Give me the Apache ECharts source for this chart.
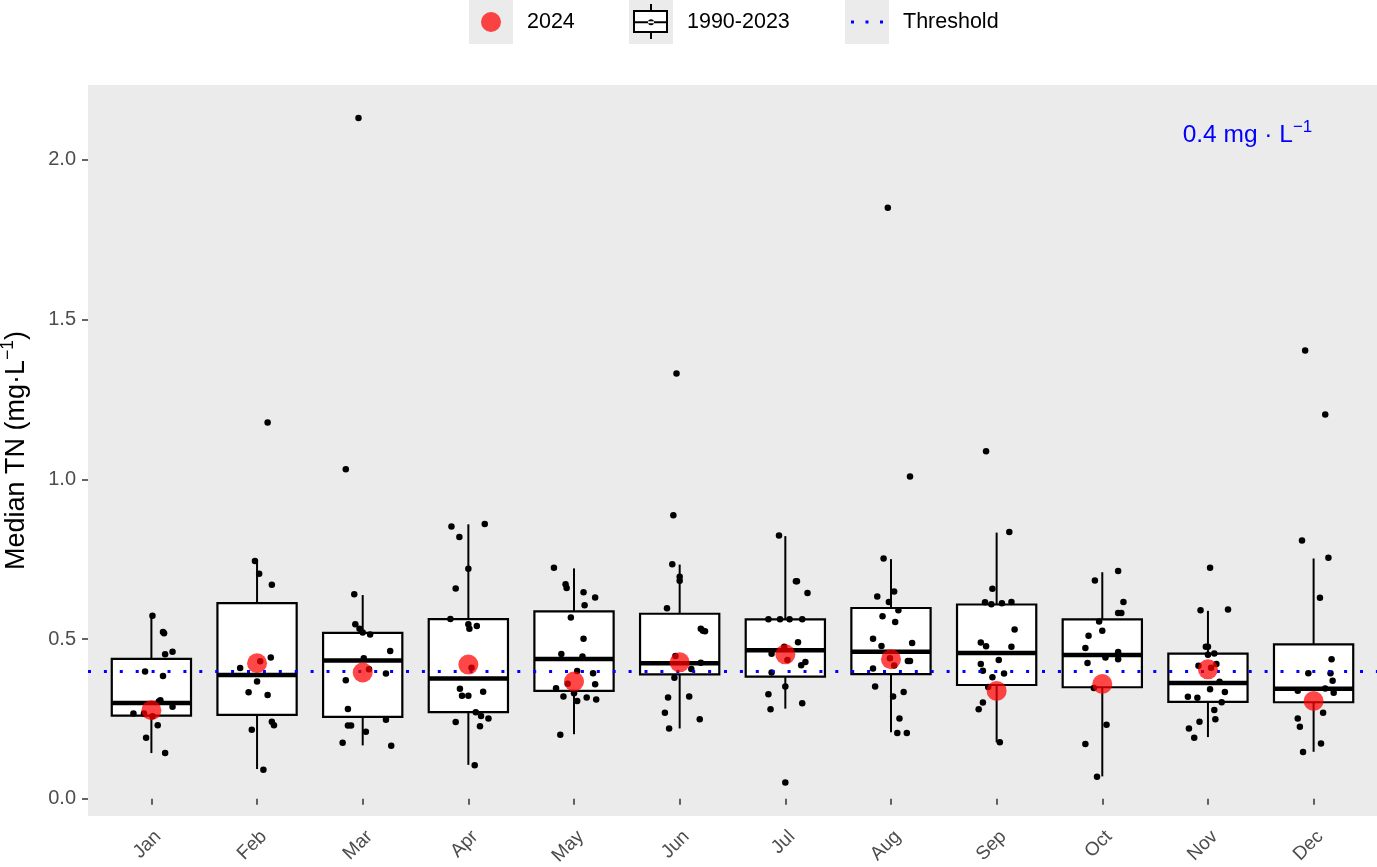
<!DOCTYPE html>
<html>
<head>
<meta charset="utf-8">
<script src="https://cdn.jsdelivr.net/npm/echarts@6/dist/echarts.min.js"></script>
<style>
html,body{margin:0;padding:0;background:#fff;}
#chart{width:1377px;height:867px;}
</style>
</head>
<body>
<div id="chart"></div>
<script>
// ---------- data ----------
const months = ['Jan','Feb','Mar','Apr','May','Jun','Jul','Aug','Sep','Oct','Nov','Dec'];

// boxplot statistics 1990-2023 (whisker low, Q1, median, Q3, whisker high)
const boxLow    = [0.143, 0.093, 0.167, 0.106, 0.202, 0.220, 0.282, 0.208, 0.177, 0.070, 0.193, 0.147];
const boxQ1     = [0.260, 0.2625, 0.256, 0.271, 0.3375, 0.389, 0.382, 0.390, 0.356, 0.349, 0.303, 0.302];
const boxMedian = [0.300, 0.3875, 0.433, 0.376, 0.4375, 0.424, 0.4646, 0.460, 0.456, 0.450, 0.3625, 0.344];
const boxQ3     = [0.4375, 0.6125, 0.519, 0.5625, 0.5865, 0.579, 0.5615, 0.597, 0.608, 0.5615, 0.454, 0.4834];
const boxHigh   = [0.573, 0.744, 0.6375, 0.859, 0.721, 0.733, 0.822, 0.750, 0.833, 0.709, 0.588, 0.752];

// 2024 monthly medians
const obs2024 = [0.277, 0.424, 0.395, 0.420, 0.367, 0.427, 0.452, 0.4365, 0.3375, 0.359, 0.405, 0.306];

const threshold = 0.4;

// yearly medians 1990-2023 (jittered points), one list per month
const histValues = [
  [0.573,0.522,0.518,0.452,0.460,0.398,0.384,0.308,0.304,0.288,0.267,0.267,0.258,0.230,0.191,0.143],
  [1.178,0.744,0.704,0.670,0.442,0.430,0.409,0.367,0.333,0.325,0.241,0.230,0.216,0.091],
  [2.131,1.031,0.640,0.546,0.532,0.520,0.514,0.4625,0.440,0.405,0.392,0.371,0.281,0.247,0.229,0.229,0.210,0.175,0.166],
  [0.852,0.860,0.819,0.720,0.658,0.5625,0.546,0.532,0.541,0.410,0.344,0.322,0.322,0.335,0.271,0.259,0.251,0.240,0.227,0.105],
  [0.723,0.671,0.660,0.646,0.630,0.606,0.567,0.501,0.453,0.445,0.400,0.393,0.358,0.360,0.346,0.330,0.320,0.306,0.317,0.311,0.200],
  [1.331,0.887,0.734,0.695,0.682,0.596,0.532,0.526,0.524,0.447,0.426,0.406,0.379,0.320,0.317,0.269,0.249,0.220],
  [0.824,0.681,0.681,0.644,0.5615,0.5615,0.5615,0.5615,0.490,0.476,0.454,0.434,0.428,0.418,0.395,0.351,0.327,0.299,0.280,0.051],
  [1.850,1.009,0.752,0.649,0.633,0.616,0.590,0.571,0.553,0.501,0.4875,0.478,0.440,0.431,0.431,0.417,0.408,0.351,0.334,0.320,0.251,0.206,0.206],
  [1.0875,0.835,0.657,0.615,0.609,0.612,0.616,0.530,0.489,0.477,0.476,0.434,0.422,0.401,0.392,0.380,0.350,0.301,0.280,0.177],
  [0.7125,0.683,0.616,0.581,0.581,0.555,0.526,0.510,0.472,0.459,0.437,0.442,0.425,0.347,0.232,0.171,0.069],
  [0.723,0.590,0.592,0.476,0.476,0.455,0.451,0.422,0.416,0.410,0.366,0.319,0.316,0.343,0.334,0.302,0.278,0.249,0.241,0.220,0.191],
  [1.403,1.203,0.808,0.754,0.629,0.437,0.393,0.393,0.369,0.345,0.332,0.338,0.269,0.251,0.225,0.173,0.146]
];
// horizontal jitter of each point (in month units)
const histJitter = [
  [0.01,0.11,0.12,0.13,0.20,-0.06,0.11,0.085,0.07,0.20,-0.17,-0.07,0.01,0.06,-0.05,0.13],
  [0.10,-0.02,0.02,0.14,0.13,0.03,-0.16,0.0,-0.08,0.10,0.14,0.16,-0.05,0.06],
  [-0.04,-0.16,-0.08,-0.07,-0.03,0.0,0.07,0.26,0.01,0.06,0.22,-0.16,-0.14,0.22,-0.14,-0.11,0.03,-0.19,0.27],
  [-0.16,0.155,-0.085,0.0,-0.12,-0.17,0.0,0.01,0.08,0.03,-0.08,-0.06,0.0,0.14,0.07,0.12,0.19,-0.12,0.11,0.06],
  [-0.19,-0.08,-0.07,0.09,0.20,0.10,-0.03,0.09,-0.12,0.08,0.03,0.18,0.20,-0.06,-0.17,0.0,-0.10,0.03,0.12,0.21,-0.13],
  [-0.03,-0.06,-0.07,0.0,0.0,-0.12,0.20,0.22,0.24,-0.04,0.20,0.11,-0.05,0.09,-0.11,-0.14,0.19,-0.10],
  [-0.06,0.10,0.11,0.21,-0.16,-0.05,0.04,0.16,0.12,-0.01,-0.13,0.02,0.19,0.15,-0.13,0.0,-0.16,0.16,-0.14,0.0],
  [-0.03,0.18,-0.07,0.03,-0.13,-0.02,0.07,-0.08,0.04,-0.17,0.20,-0.09,-0.01,0.16,0.18,0.03,-0.17,-0.15,0.12,0.02,0.08,0.06,0.15],
  [-0.10,0.12,-0.04,-0.11,-0.05,0.05,0.14,0.17,-0.15,-0.10,0.14,0.02,-0.15,-0.13,0.07,-0.04,-0.08,-0.13,-0.17,0.03],
  [0.15,-0.07,0.20,0.15,0.18,-0.03,0.0,-0.13,-0.16,0.15,0.15,0.03,-0.14,-0.08,0.04,-0.16,-0.05],
  [0.02,-0.07,0.19,-0.02,0.0,0.06,0.0,0.08,-0.09,0.03,0.11,-0.19,-0.10,0.02,0.16,0.13,0.06,0.07,-0.08,-0.18,-0.13],
  [-0.08,0.11,-0.11,0.14,0.06,0.17,-0.05,0.16,0.18,0.11,0.19,-0.15,0.09,-0.15,-0.13,0.07,-0.10]
];
const yTicks = [0, 0.5, 1.0, 1.5, 2.0];

// ---------- build series data ----------
const monthIdx = months.map((m, i) => i + 1);
const boxData = monthIdx.map((x, i) => [x, boxLow[i], boxQ1[i], boxMedian[i], boxQ3[i], boxHigh[i]]);
const pointData = [];
histValues.forEach((vals, i) => {
  vals.forEach((v, j) => pointData.push([monthIdx[i] + histJitter[i][j], v]));
});
const data2024 = monthIdx.map((x, i) => [x, obs2024[i]]);

const FONT = '"Liberation Sans", Arial, Helvetica, sans-serif';
const BOX_WIDTH = 0.75;

function renderBox(params, api) {
  const x = api.value(0);
  const lo = api.coord([x, api.value(1)]);
  const q1 = api.coord([x, api.value(2)]);
  const md = api.coord([x, api.value(3)]);
  const q3 = api.coord([x, api.value(4)]);
  const hi = api.coord([x, api.value(5)]);
  const w = api.size([BOX_WIDTH, 0])[0];
  const cx = lo[0];
  const ls = {stroke: '#000', lineWidth: 2};
  return {
    type: 'group',
    children: [
      {type: 'line', shape: {x1: cx, y1: hi[1], x2: cx, y2: q3[1]}, style: ls},
      {type: 'line', shape: {x1: cx, y1: q1[1], x2: cx, y2: lo[1]}, style: ls},
      {type: 'rect', shape: {x: cx - w / 2, y: q3[1], width: w, height: q1[1] - q3[1]},
       style: {fill: '#fff', stroke: '#000', lineWidth: 2.2}},
      {type: 'line', shape: {x1: cx - w / 2, y1: md[1], x2: cx + w / 2, y2: md[1]},
       style: {stroke: '#000', lineWidth: 4.5}}
    ]
  };
}

// legend icons (44x44 boxes; tiny corner specks fix the bounding box)
const SPECK = 'M0 0h0.01v0.01h-0.01z M43.99 43.99h0.01v0.01h-0.01z ';
const circleIcon = 'path://' + SPECK + 'M12 22a10 10 0 1 0 20 0a10 10 0 1 0 -20 0z';
const boxIcon = 'path://' + SPECK +
  'M21 4H23V10H21Z M4 10H39V33H4Z M6 12V31H37V12Z M6 21.3H37V23.3H6Z ' +
  'M19 22.3a3 3 0 1 0 6 0a3 3 0 1 0 -6 0z M21 33H23V39H21Z';
const dotsIcon = 'path://' + SPECK + 'M6 20.5h3v3h-3z M20.5 20.5h3v3h-3z M35 20.5h3v3h-3z';

const legendText = {fontSize: 21.5, color: '#000', fontFamily: FONT, padding: [0, 0, 0, 9]};
function oneLegend(name, icon, left, opacity) {
  return {
    data: [{name: name, icon: icon, itemStyle: {opacity: opacity}}],
    left: left, top: 0, padding: 0, itemWidth: 44, itemHeight: 44,
    selectedMode: false, textStyle: legendText, z: 10
  };
}
const keyPos = [469, 629, 845];

const chart = echarts.init(document.getElementById('chart'), null, {renderer: 'canvas'});
chart.setOption({
  animation: false,
  backgroundColor: '#fff',
  graphic: keyPos.map(x => ({
    type: 'rect', left: x, top: 0, shape: {width: 44, height: 44},
    style: {fill: '#EBEBEB'}, z: 0, silent: true
  })).concat([{
    type: 'rect', left: keyPos[1] + 5, top: 11, shape: {width: 33, height: 21},
    style: {fill: '#fff'}, z: 1, silent: true
  }]),
  legend: [
    oneLegend('2024', circleIcon, keyPos[0], 0.72),
    oneLegend('1990-2023', boxIcon, keyPos[1], 1),
    oneLegend('Threshold', dotsIcon, keyPos[2], 1)
  ],
  grid: {
    left: 88, right: 0, top: 85, bottom: 51,
    show: true, backgroundColor: '#EBEBEB', borderWidth: 0,
    outerBoundsMode: 'none', containLabel: false
  },
  xAxis: {
    type: 'value', min: 0.4, max: 12.6,
    axisLine: {show: false},
    splitLine: {show: false},
    axisTick: {show: true, length: 6, customValues: monthIdx, lineStyle: {color: '#333', width: 1.5}},
    axisLabel: {
      customValues: monthIdx,
      formatter: v => months[Math.round(v) - 1],
      rotate: 45, align: 'right', verticalAlign: 'top', margin: 11,
      fontSize: 19, color: '#4d4d4d', fontFamily: FONT
    }
  },
  yAxis: {
    type: 'value', min: -0.054, max: 2.234,
    axisLine: {show: false},
    splitLine: {show: false},
    axisTick: {show: true, length: 6, customValues: yTicks, lineStyle: {color: '#333', width: 1.5}},
    axisLabel: {
      customValues: yTicks,
      formatter: v => v.toFixed(1),
      fontSize: 20, color: '#4d4d4d', fontFamily: FONT, margin: 12
    },
    name: '{a|Median TN (mg·L}{s|−1}{a|)}',
    nameLocation: 'middle', nameGap: 54, nameRotate: 90,
    nameTextStyle: {
      fontFamily: FONT, color: '#000', fontSize: 27,
      rich: {
        a: {fontSize: 27, fontFamily: FONT, color: '#000', lineHeight: 35},
        s: {fontSize: 17.5, fontFamily: FONT, color: '#000', verticalAlign: 'top', lineHeight: 17}
      }
    }
  },
  series: [
    {
      name: '1990-2023', type: 'custom', renderItem: renderBox,
      data: boxData, encode: {x: 0, y: [1, 2, 3, 4, 5]},
      itemStyle: {color: '#000'}, z: 2
    },
    {
      name: 'Threshold', type: 'line', data: [],
      itemStyle: {color: '#0000FF'}, lineStyle: {color: '#0000FF'},
      markLine: {
        silent: true, symbol: ['none', 'none'], label: {show: false},
        lineStyle: {color: '#0000FF', width: 3, type: [3, 12.9], cap: 'butt'},
        emphasis: {disabled: true},
        data: [{yAxis: threshold}]
      },
      z: 3
    },
    {
      name: 'historical', type: 'scatter', data: pointData,
      symbol: 'circle', symbolSize: 6.5, itemStyle: {color: '#000', opacity: 1},
      silent: true, z: 4
    },
    {
      name: '2024', type: 'scatter', data: data2024,
      symbol: 'circle', symbolSize: 20, itemStyle: {color: '#FF0000', opacity: 0.72},
      silent: true, z: 5
    },
    {
      name: 'annotation', type: 'scatter', data: [[11.374, 2.078]],
      symbol: 'circle', symbolSize: 1, itemStyle: {color: 'rgba(0,0,0,0)', opacity: 1},
      silent: true, z: 6,
      label: {
        show: true, position: 'inside', opacity: 1,
        formatter: '{a|0.4 mg · L}{s|−1}',
        rich: {
          a: {fontSize: 24.5, fontFamily: FONT, color: '#0000FF', lineHeight: 32},
          s: {fontSize: 17, fontFamily: FONT, color: '#0000FF', verticalAlign: 'top', lineHeight: 17}
        }
      }
    }
  ]
});
</script>
</body>
</html>
